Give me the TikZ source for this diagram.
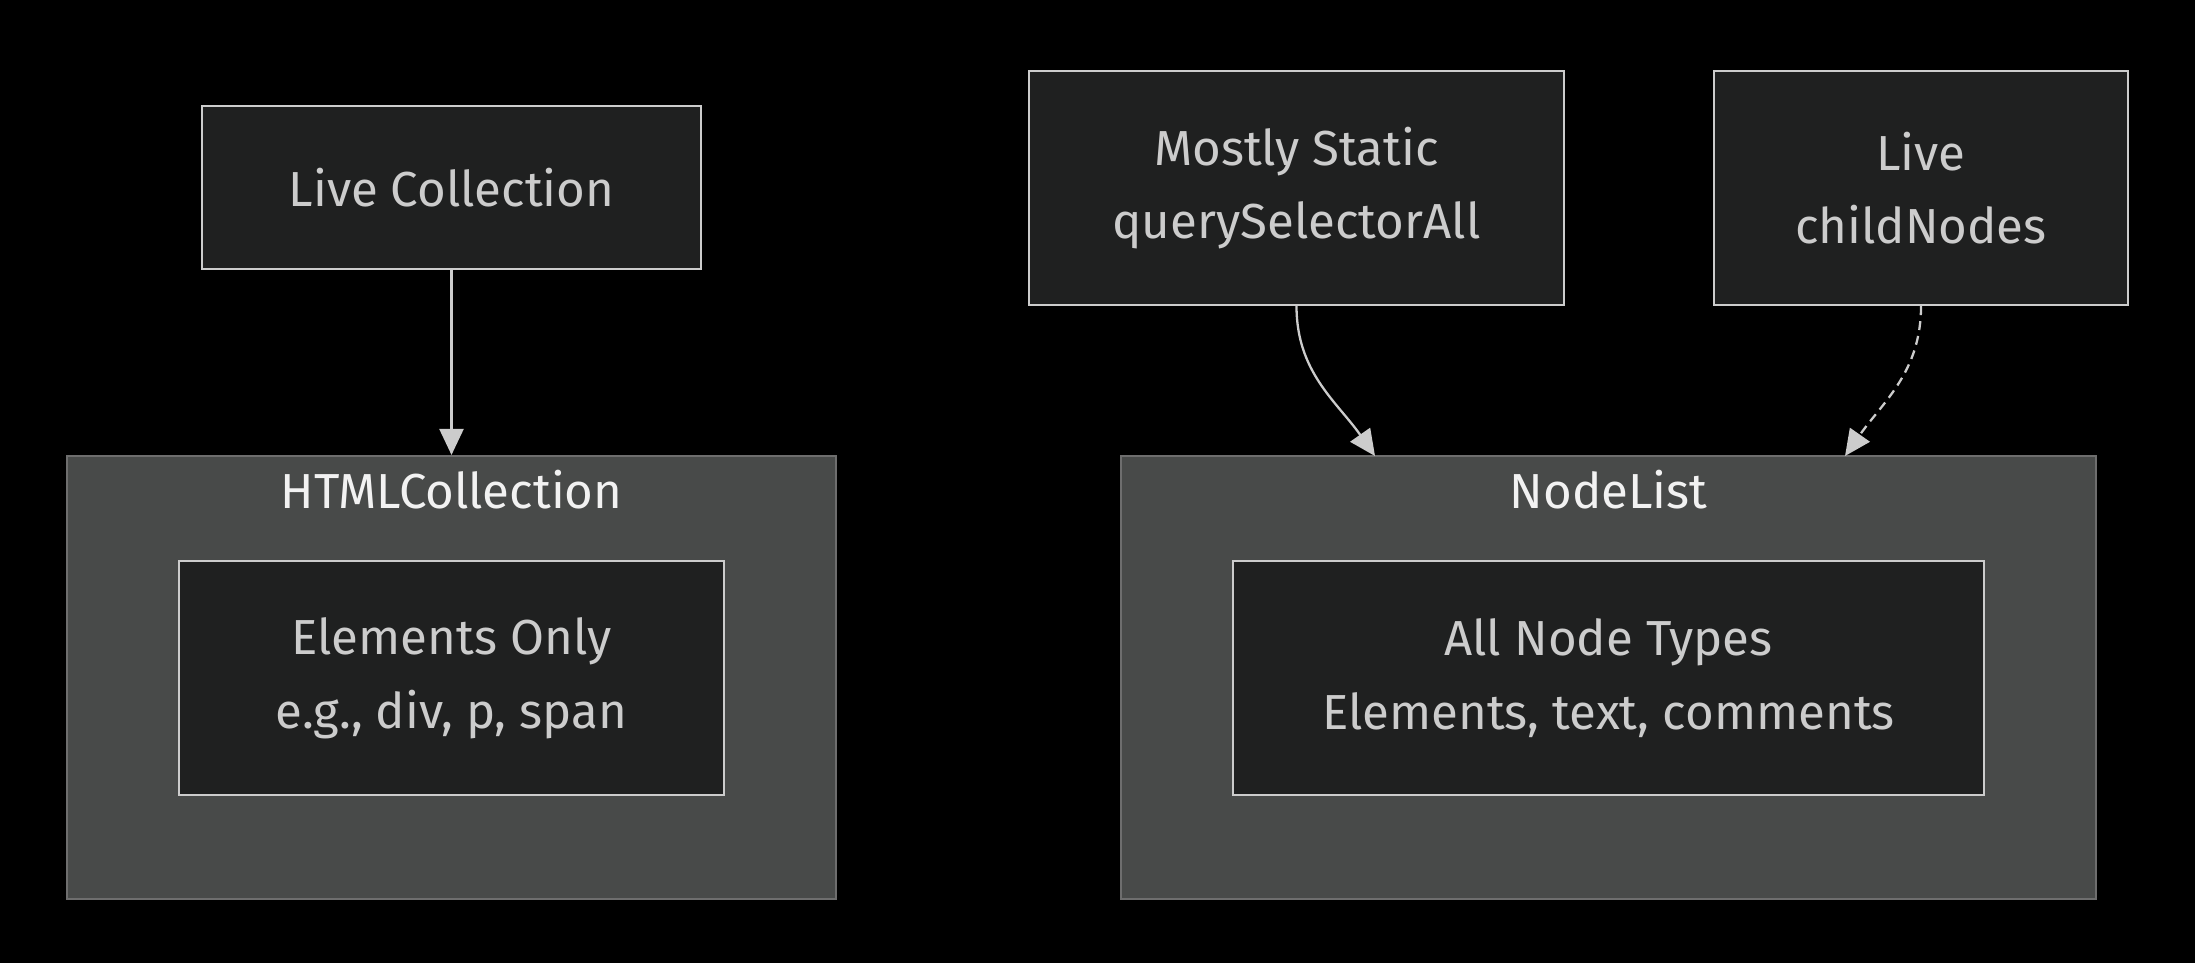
\documentclass[tikz,border=0pt]{standalone}
\usepackage{fontspec}
\setmainfont{Fira Sans}
\usetikzlibrary{arrows.meta}
\definecolor{nodefill}{HTML}{1F2020}
\definecolor{nodeline}{HTML}{CCCCCC}
\definecolor{clusterfill}{HTML}{484A49}
\definecolor{clusterline}{HTML}{6E6E6E}
\definecolor{titletext}{HTML}{F2F2F2}
\tikzset{
  box/.style={draw=nodeline, fill=nodefill, line width=0.65pt, text=nodeline,
    align=center, inner sep=0pt, font=\fontsize{14}{21}\selectfont},
  cluster/.style={draw=clusterline, fill=clusterfill, line width=0.6pt, inner sep=0pt},
  ctitle/.style={text=titletext, font=\fontsize{14}{21}\selectfont},
  link/.style={draw=nodeline, line width=0.65pt, -{Triangle[length=0.26cm,width=0.24cm]}}
}
\begin{document}
\begin{tikzpicture}
\useasboundingbox (0,0) rectangle (21.95,-9.63);
\fill[black] (0,0) rectangle (21.95,-9.63);
% clusters
\node[cluster, minimum width=7.69cm, minimum height=4.43cm] (htmlc) at (4.515,-6.775) {};
\node[ctitle] (htmlct) at (4.515,-4.90) {HTMLCollection};
\node[cluster, minimum width=9.75cm, minimum height=4.43cm] (nodel) at (16.085,-6.775) {};
\node[ctitle] (nodelt) at (16.085,-4.90) {NodeList};
% nodes
\node[box, minimum width=4.99cm, minimum height=1.63cm] (live) at (4.515,-1.875) {Live Collection};
\node[box, minimum width=5.45cm, minimum height=2.34cm] (elems) at (4.515,-6.78) {Elements Only\\e.g., div, p, span};
\node[box, minimum width=5.35cm, minimum height=2.34cm] (static) at (12.965,-1.88) {Mostly Static\\querySelectorAll};
\node[box, minimum width=4.14cm, minimum height=2.34cm] (childn) at (19.21,-1.88) {Live\\childNodes};
\node[box, minimum width=7.51cm, minimum height=2.34cm] (alltypes) at (16.085,-6.78) {All Node Types\\Elements, text, comments};
% edges
\coordinate (nlin1) at (13.75,-4.56);
\coordinate (nlin2) at (18.45,-4.56);
\draw[link] (live.south) -- (htmlc.north);
\draw[link] (static.south) to[out=-90, in=125] (nlin1);
\draw[link, dash pattern=on 0.09cm off 0.06cm] (childn.south) to[out=-90, in=55] (nlin2);
\end{tikzpicture}
\end{document}
